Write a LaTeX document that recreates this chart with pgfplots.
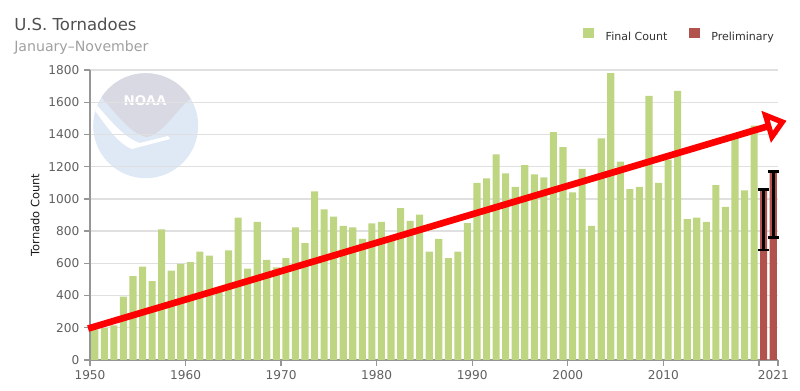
\documentclass[border=0pt]{standalone}
\usepackage{fontspec}
\setmainfont{DejaVu Sans}
\usepackage{pgfplots}
\pgfplotsset{compat=1.18}
\usepackage{pgfplotstable}
\usetikzlibrary{arrows.meta}
\definecolor{finalgreen}{RGB}{190,214,130}
\definecolor{prelimred}{RGB}{178,82,77}
\definecolor{gridgray}{RGB}{224,224,224}
\definecolor{axisgray}{RGB}{150,150,150}
\definecolor{labelgray}{RGB}{96,96,96}
\definecolor{titlegray}{RGB}{80,80,80}
\definecolor{subgray}{RGB}{160,160,160}
\definecolor{logoblue}{RGB}{222,233,245}
\definecolor{logogray}{RGB}{216,217,226}

\pgfplotstableread{
year count
1950 190
1951 200
1952 215
1953 393
1954 521
1955 579
1956 490
1957 811
1958 555
1959 596
1960 608
1961 672
1962 648
1963 440
1964 681
1965 883
1966 567
1967 857
1968 621
1969 575
1970 633
1971 823
1972 726
1973 1047
1974 935
1975 890
1976 832
1977 823
1978 751
1979 848
1980 857
1981 770
1982 943
1983 863
1984 902
1985 672
1986 751
1987 633
1988 672
1989 850
1990 1099
1991 1128
1992 1277
1993 1159
1994 1074
1995 1210
1996 1152
1997 1134
1998 1415
1999 1322
2000 1041
2001 1186
2002 832
2003 1376
2004 1781
2005 1231
2006 1061
2007 1074
2008 1639
2009 1099
2010 1243
2011 1670
2012 875
2013 883
2014 857
2015 1086
2016 950
2017 1400
2018 1053
2019 1455
}\finaltable

\begin{document}
\begin{tikzpicture}
% NOAA watermark (image pixel coordinates)
\begin{scope}[x=0.75pt,y=-0.75pt,shift={(-67.5pt,270pt)}]
  \fill[logoblue] (145.7,125.7) circle (39.375pt);
  \begin{scope}
    \clip (145.7,125.7) circle (39.375pt);
    \fill[logogray] (90,60) -- (200,60) -- (200,92)
      .. controls (180,102) and (165,134) .. (147,137)
      .. controls (128,134) and (112,106) .. (90,86) -- cycle;
    \fill[white] (90,104) .. controls (104,122) and (116,143) .. (132,149)
      -- (170,139) -- (168,136) -- (140,143)
      .. controls (124,138) and (110,120) .. (94,102) -- cycle;
  \end{scope}
  \node[text=white, font=\fontsize{10}{12}\selectfont\bfseries, inner sep=0] at (145,101) {NOAA};
\end{scope}

\begin{axis}[
  at={(0,0)}, anchor=south west,
  scale only axis, width=516pt, height=217.5pt,
  xmin=1950, xmax=2022, ymin=0, ymax=1800,
  clip=false,
  axis x line*=bottom, axis y line*=left,
  axis line style={color=axisgray, line width=1pt, -},
  ytick={0,200,...,1800},
  xtick={1950,1960,...,2010},
  extra x ticks={2020,2022}, extra x tick labels={,2021},
  extra x tick style={xticklabel style={xshift=-3.5pt}},
  ymajorgrids, grid style={color=gridgray, line width=1pt},
  tick align=outside, major tick length=4.5pt,
  tick style={color=axisgray, line width=1pt},
  ticklabel style={font=\fontsize{9.1}{11}\selectfont, text=labelgray},
  /pgf/number format/1000 sep={},
  /pgf/number format/assume math mode=true,
  ylabel={Tornado Count},
  ylabel style={at={(axis description cs:-0.0799,0.5)}, anchor=center,
    font=\fontsize{8.6}{10}\selectfont, text=black!90},
  mybar/.style={ybar, bar width=0.74, bar shift=0pt, draw=none,
    legend image code/.code={\fill[##1] (0pt,-0.8pt) rectangle (8pt,7.2pt);}},
  legend style={at={(axis description cs:0.717,1.12)}, anchor=west,
    draw=none, fill=none, inner sep=0pt, outer sep=0pt,
    font=\fontsize{8.3}{10}\selectfont, text=black!80,
    legend columns=2,
    nodes={inner sep=0pt},
    /tikz/every odd column/.append style={column sep=8.8pt},
    /tikz/every even column/.append style={column sep=16pt}},
  legend cell align=left,
]
\addplot[mybar, fill=finalgreen] table[x expr=\thisrow{year}+0.5, y=count] {\finaltable};
\addlegendentry{Final Count}
\addplot[mybar, fill=prelimred,
  error bars/.cd, y dir=both, y explicit,
  error bar style={draw=black, line width=2pt},
  error mark options={draw=black, line width=2pt, mark size=4pt, rotate=90}]
  coordinates {(2020.5,1055) += (0,5) -= (0,372) (2021.5,1169) += (0,0) -= (0,410)};
\addlegendentry{Preliminary}
\addplot[forget plot, red, line width=5pt,
  -{Triangle[open, length=16pt, width=24pt]}]
  coordinates {(1949.8,195) (2022.9,1485)};
\end{axis}

\begin{scope}[x=0.75pt,y=-0.75pt,shift={(-67.5pt,270pt)}]
  \node[anchor=base west, inner sep=0, font=\fontsize{12.4}{15}\selectfont, text=titlegray] at (14,30.7) {U.S. Tornadoes};
  \node[anchor=base west, inner sep=0, font=\fontsize{10.6}{13}\selectfont, text=subgray] at (14,51.7) {January–November};
\end{scope}
\pgfresetboundingbox
\path[use as bounding box] (-67.5pt,-23.25pt) rectangle (532.5pt,270pt);
\end{tikzpicture}
\end{document}
